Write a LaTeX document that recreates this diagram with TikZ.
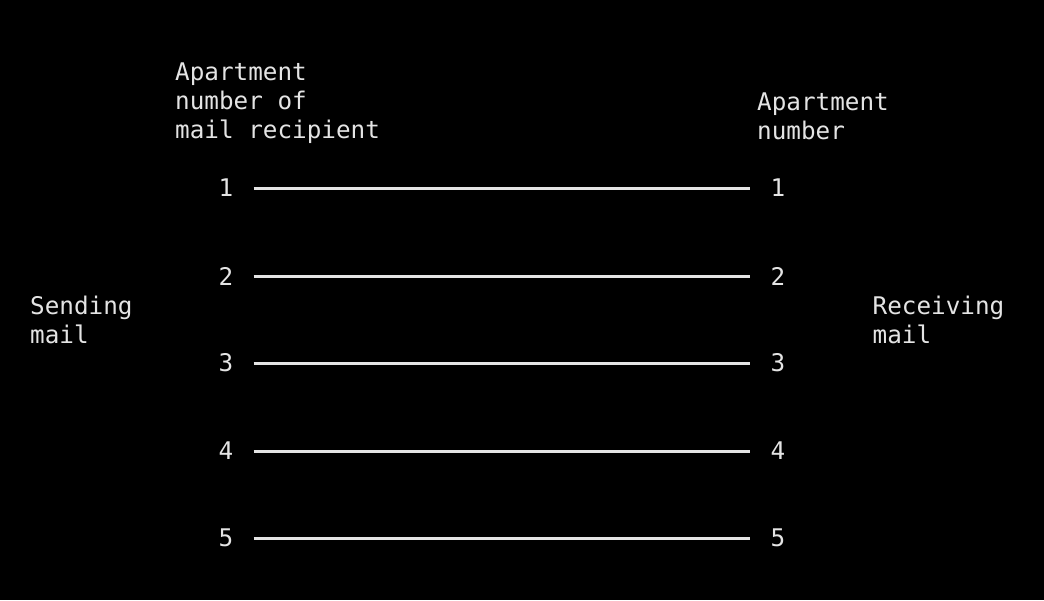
\documentclass[tikz,border=0pt]{standalone}
\usepackage{fontspec}
\setmonofont{DejaVu Sans Mono}
\usetikzlibrary{positioning}
\definecolor{ink}{HTML}{E4E4E4}

\begin{document}
\begin{tikzpicture}[x=1pt,y=-1pt,
	every node/.style={text=ink,inner sep=0pt,font=\ttfamily\fontsize{24.3}{29}\selectfont},
	caption/.style={align=left,anchor=north west},
	wire/.style={draw=ink,line width=3pt}]
	\fill[black] (0,0) rectangle (1044,600);

	\node[caption] (recip) at (175,63) {Apartment\\number of\\mail recipient};
	\node[caption] (apt) at (757,93) {Apartment\\number};
	\node[caption] (send) at (30,296) {Sending\\mail};
	\node[caption] (recv) at (872.5,296) {Receiving\\mail};

	\foreach \i/\y in {1/188,2/276,3/363,4/451,5/538} {
		\node (l\i) at (226,\y) {\i};
		\node (r\i) at (778,\y) {\i};
		\draw[wire] ([xshift=20pt]l\i.east) -- ([xshift=-20pt]r\i.west);
	}
\end{tikzpicture}
\end{document}
